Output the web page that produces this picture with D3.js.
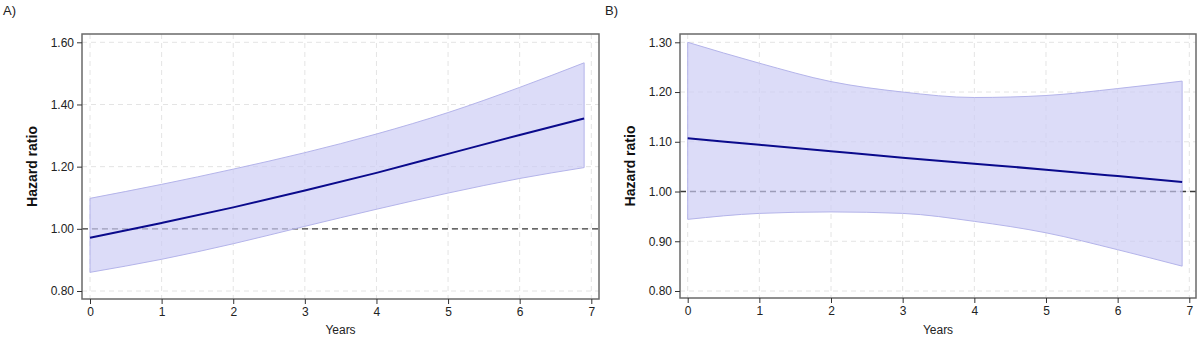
<!DOCTYPE html>
<html>
<head>
<meta charset="utf-8">
<script src="https://cdn.jsdelivr.net/npm/d3@7"></script>
<style>
  html, body { margin: 0; padding: 0; background: #fff; }
  svg { display: block; font-family: "Liberation Sans", Arial, sans-serif; }
</style>
</head>
<body>
<svg id="chart" width="1200" height="338"></svg>
<script>
// ---- Data ----
const years = [0, 1, 2, 3, 4, 5, 6, 6.9];

const panelA_estimate = [0.971, 1.019, 1.069, 1.123, 1.180, 1.241, 1.302, 1.355];
const panelA_upper    = [1.098, 1.143, 1.192, 1.245, 1.305, 1.374, 1.455, 1.534];
const panelA_lower    = [0.860, 0.902, 0.952, 1.008, 1.063, 1.115, 1.162, 1.197];

const panelB_estimate = [1.107, 1.094, 1.081, 1.068, 1.056, 1.044, 1.031, 1.019];
const panelB_upper    = [1.300, 1.258, 1.221, 1.200, 1.189, 1.193, 1.207, 1.222];
const panelB_lower    = [0.944, 0.956, 0.959, 0.956, 0.940, 0.917, 0.883, 0.850];

const xTicks = [0, 1, 2, 3, 4, 5, 6, 7];
const panelA_yTicks = [0.80, 1.00, 1.20, 1.40, 1.60];
const panelB_yTicks = [0.80, 0.90, 1.00, 1.10, 1.20, 1.30];

const panelLabels = ["A)", "B)"];
const xTitle = "Years";
const yTitle = "Hazard ratio";
const referenceValue = 1.0;

// ---- Drawing ----
const svg = d3.select("#chart");

function drawPanel(cfg) {
  const g = svg.append("g");
  const x = d3.scaleLinear().domain([0, 7]).range([cfg.x0, cfg.x7]);
  const y = d3.scaleLinear().domain([cfg.yTicks[0], cfg.yTicks[cfg.yTicks.length - 1]])
    .range([cfg.yBottomTick, cfg.yTopTick]);

  const L = cfg.frame.left, R = cfg.frame.right, T = cfg.frame.top, B = cfg.frame.bottom;

  // grid
  g.append("g").selectAll("line").data(xTicks).join("line")
    .attr("x1", d => x(d)).attr("x2", d => x(d)).attr("y1", T).attr("y2", B)
    .attr("stroke", "#e4e4e4").attr("stroke-width", 1).attr("stroke-dasharray", "5,4");
  g.append("g").selectAll("line").data(cfg.yTicks).join("line")
    .attr("y1", d => y(d)).attr("y2", d => y(d)).attr("x1", L).attr("x2", R)
    .attr("stroke", "#e4e4e4").attr("stroke-width", 1).attr("stroke-dasharray", "5,4");

  // reference line
  g.append("line")
    .attr("x1", L).attr("x2", R).attr("y1", y(referenceValue)).attr("y2", y(referenceValue))
    .attr("stroke", "#3a3a3a").attr("stroke-width", 1.3).attr("stroke-dasharray", "6,4");

  const pts = years.map((t, i) => ({ t, est: cfg.est[i], lo: cfg.lo[i], hi: cfg.hi[i] }));

  // band
  const area = d3.area().x(d => x(d.t)).y0(d => y(d.lo)).y1(d => y(d.hi)).curve(d3.curveMonotoneX);
  g.append("path").datum(pts).attr("d", area)
    .attr("fill", "rgb(203,203,245)").attr("fill-opacity", 0.68)
    .attr("stroke", "#b4b4ea").attr("stroke-width", 1);

  // estimate line
  const line = d3.line().x(d => x(d.t)).y(d => y(d.est)).curve(d3.curveMonotoneX);
  g.append("path").datum(pts).attr("d", line)
    .attr("fill", "none").attr("stroke", "#0a0a8c").attr("stroke-width", 2);

  // frame
  g.append("rect").attr("x", L).attr("y", T).attr("width", R - L).attr("height", B - T)
    .attr("fill", "none").attr("stroke", "#6a6a6a").attr("stroke-width", 1.5);

  // axes
  const yAxis = d3.axisLeft(y).tickValues(cfg.yTicks).tickFormat(d3.format(".2f")).tickSize(5).tickPadding(3);
  const ya = g.append("g").attr("transform", `translate(${L},0)`).call(yAxis);
  const xAxis = d3.axisBottom(x).tickValues(xTicks).tickFormat(d3.format("d")).tickSize(5).tickPadding(3);
  const xa = g.append("g").attr("transform", `translate(0,${B})`).call(xAxis);
  [ya, xa].forEach(a => {
    a.select(".domain").remove();
    a.selectAll(".tick line").attr("stroke", "#333");
    a.selectAll(".tick text").attr("fill", "#222").attr("font-size", 12)
      .attr("font-family", "'Liberation Sans', Arial, sans-serif");
  });

  // titles
  g.append("text").attr("x", (L + R) / 2).attr("y", 334).attr("text-anchor", "middle")
    .attr("font-size", 12).attr("fill", "#222").text(xTitle);
  g.append("text")
    .attr("transform", `translate(${cfg.yTitleX},${(T + B) / 2}) rotate(-90)`)
    .attr("text-anchor", "middle").attr("font-size", 14).attr("font-weight", "bold")
    .attr("fill", "#111").text(yTitle);
  g.append("text").attr("x", cfg.labelX).attr("y", 15).attr("font-size", 13)
    .attr("fill", "#222").text(cfg.label);
}

drawPanel({
  label: panelLabels[0], labelX: 3,
  frame: { left: 82, right: 599, top: 34, bottom: 299 },
  x0: 90, x7: 591.3, yBottomTick: 291, yTopTick: 42.3,
  yTicks: panelA_yTicks, yTitleX: 37,
  est: panelA_estimate, lo: panelA_lower, hi: panelA_upper
});
drawPanel({
  label: panelLabels[1], labelX: 605,
  frame: { left: 680, right: 1196, top: 34, bottom: 298 },
  x0: 687.7, x7: 1189.3, yBottomTick: 291, yTopTick: 42.3,
  yTicks: panelB_yTicks, yTitleX: 635,
  est: panelB_estimate, lo: panelB_lower, hi: panelB_upper
});
</script>
</body>
</html>
